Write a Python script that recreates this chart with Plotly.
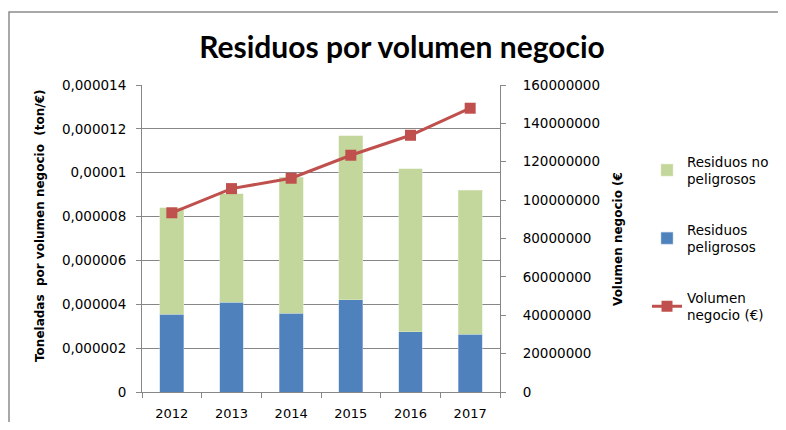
import plotly.graph_objects as go

years = ["2012", "2013", "2014", "2015", "2016", "2017"]
peligrosos = [3.54e-6, 4.09e-6, 3.59e-6, 4.21e-6, 2.74e-6, 2.63e-6]
no_peligrosos = [4.86e-6, 4.94e-6, 6.20e-6, 7.48e-6, 7.45e-6, 6.58e-6]
volumen = [93.4e6, 106.0e6, 111.4e6, 123.4e6, 133.8e6, 147.9e6]

left_tickvals = [0, 2e-6, 4e-6, 6e-6, 8e-6, 10e-6, 12e-6, 14e-6]
left_ticktext = ["0", "0,000002", "0,000004", "0,000006", "0,000008", "0,00001", "0,000012", "0,000014"]
right_tickvals = [0, 20e6, 40e6, 60e6, 80e6, 100e6, 120e6, 140e6, 160e6]
right_ticktext = ["0", "20000000", "40000000", "60000000", "80000000", "100000000", "120000000", "140000000", "160000000"]

FONT = "DejaVu Sans"
GRID = "#878787"

# page body has an 8px margin: figure drawn offset by (8, 8)
OFF = 8
W, H = 786 - 2 * OFF, 430 - 2 * OFF
# plot area in reference pixel coords: x 142..500, y 85..392
L = 142 - OFF
T = 85 - OFF
R = W - (500 - OFF)
B = H - (392 - OFF)
pw = W - L - R
ph = H - T - B

def px_x(px):
    return (px - OFF - L) / pw

def px_y(py):
    return (H - B - (py - OFF)) / ph

fig = go.Figure()
fig.add_trace(go.Bar(
    x=years, y=peligrosos, name="Residuos<br>peligrosos",
    marker=dict(color="#4F81BD", line=dict(color="#B9CDE5", width=0.5)),
    width=0.4, legendrank=2, legendgroup="b",
))
fig.add_trace(go.Bar(
    x=years, y=no_peligrosos, name="Residuos no<br>peligrosos",
    marker=dict(color="#C3D69B", line=dict(color="#E0EBCB", width=0.5)),
    width=0.4, legendrank=1, legendgroup="a",
))
fig.add_trace(go.Scatter(
    x=years, y=volumen, name="Volumen<br>negocio (€)", yaxis="y2",
    mode="lines+markers",
    line=dict(color="#C0504D", width=3),
    marker=dict(symbol="square", size=11, color="#C0504D"),
    legendrank=3, legendgroup="c",
))

fig.update_layout(
    width=W, height=H,
    margin=dict(l=L, r=R, t=T, b=B, autoexpand=False),
    paper_bgcolor="white", plot_bgcolor="white",
    barmode="stack",
    font=dict(family=FONT, size=13.5, color="#000000"),
    title=dict(text="<b>Residuos por volumen negocio</b>",
               x=(402 - OFF) / W, xanchor="center",
               y=1 - (47 - OFF) / H, yanchor="middle",
               font=dict(family="Lato", size=30, color="#000000")),
    xaxis=dict(
        range=[-0.5, 5.5], showline=True, linecolor=GRID, linewidth=1,
        ticks="outside", ticklen=5, tickcolor=GRID, tickson="boundaries",
        showgrid=False, tickfont=dict(size=13), ticklabelstandoff=9,
    ),
    yaxis=dict(
        range=[0, 14e-6], tickvals=left_tickvals, ticktext=left_ticktext,
        showline=True, linecolor=GRID, linewidth=1,
        ticks="outside", ticklen=5, tickcolor=GRID,
        showgrid=True, gridcolor=GRID, gridwidth=1, zeroline=False,
        tickfont=dict(size=13.5), ticklabelstandoff=7,
    ),
    yaxis2=dict(
        range=[0, 160e6], tickvals=right_tickvals, ticktext=right_ticktext,
        overlaying="y", side="right",
        showline=True, linecolor=GRID, linewidth=1,
        ticks="outside", ticklen=5, tickcolor=GRID,
        showgrid=False, zeroline=False,
        tickfont=dict(size=13.5), ticklabelstandoff=14,
    ),
    legend=dict(
        x=px_x(647), xanchor="left", y=px_y(146), yanchor="top",
        font=dict(size=13.5), tracegroupgap=30, bgcolor="rgba(0,0,0,0)",
    ),
    showlegend=True,
)

fig.add_annotation(
    text="<b>Toneladas  por volumen negocio  (ton/€)</b>", textangle=-90,
    xref="paper", yref="paper", x=px_x(40), y=px_y(226),
    xanchor="center", yanchor="middle", showarrow=False,
    font=dict(family=FONT, size=12, color="#000000"),
)
fig.add_annotation(
    text="<b>Volumen negocio (€</b>", textangle=-90,
    xref="paper", yref="paper", x=px_x(618), y=px_y(239),
    xanchor="center", yanchor="middle", showarrow=False,
    font=dict(family=FONT, size=12, color="#000000"),
)

fig.add_shape(
    type="rect", xref="paper", yref="paper",
    x0=px_x(9), x1=px_x(800), y0=px_y(440), y1=px_y(12),
    line=dict(color="#8C8C8C", width=1.5), fillcolor="rgba(0,0,0,0)", layer="below",
)

fig.write_html("out.html")
